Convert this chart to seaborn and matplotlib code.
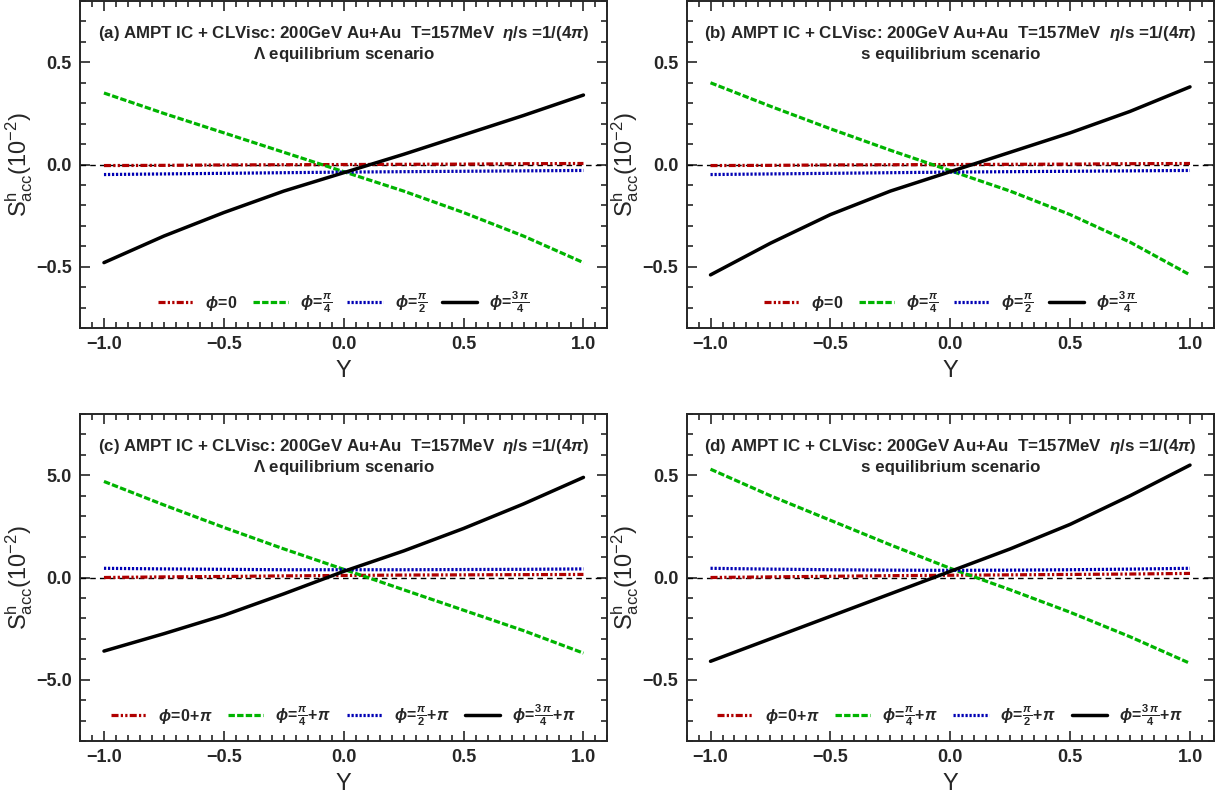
import numpy as np
import pandas as pd
import matplotlib
matplotlib.use("Agg")
import matplotlib.pyplot as plt
from matplotlib.ticker import MultipleLocator, FuncFormatter
import seaborn as sns

# rapidity grid
Y = [-1.0, -0.75, -0.5, -0.25, 0.0, 0.25, 0.5, 0.75, 1.0]

# (a) Lambda equilibrium, phi = 0, pi/4, pi/2, 3pi/4
a_phi0 = [-0.005, -0.004, -0.002, -0.001, 0.0, 0.001, 0.002, 0.004, 0.005]
a_phi1 = [0.35, 0.25, 0.155, 0.06, -0.035, -0.13, -0.235, -0.35, -0.48]
a_phi2 = [-0.049, -0.046, -0.043, -0.040, -0.037, -0.035, -0.033, -0.031, -0.029]
a_phi3 = [-0.48, -0.35, -0.235, -0.13, -0.04, 0.05, 0.145, 0.24, 0.34]

# (b) s equilibrium
b_phi0 = [-0.005, -0.004, -0.002, -0.001, 0.0, 0.001, 0.002, 0.004, 0.005]
b_phi1 = [0.40, 0.285, 0.175, 0.07, -0.03, -0.13, -0.245, -0.38, -0.54]
b_phi2 = [-0.049, -0.046, -0.043, -0.040, -0.037, -0.035, -0.033, -0.031, -0.029]
b_phi3 = [-0.54, -0.385, -0.245, -0.13, -0.035, 0.06, 0.155, 0.26, 0.38]

# (c) Lambda equilibrium, phi + pi
c_phi0 = [0.0, 0.03, 0.05, 0.08, 0.10, 0.12, 0.13, 0.14, 0.15]
c_phi1 = [4.7, 3.55, 2.45, 1.4, 0.4, -0.6, -1.6, -2.6, -3.7]
c_phi2 = [0.45, 0.42, 0.40, 0.38, 0.38, 0.38, 0.39, 0.40, 0.42]
c_phi3 = [-3.6, -2.75, -1.85, -0.8, 0.3, 1.3, 2.4, 3.6, 4.9]

# (d) s equilibrium, phi + pi
d_phi0 = [0.0, 0.003, 0.006, 0.009, 0.011, 0.013, 0.015, 0.017, 0.02]
d_phi1 = [0.53, 0.40, 0.28, 0.16, 0.045, -0.06, -0.17, -0.29, -0.42]
d_phi2 = [0.045, 0.041, 0.038, 0.036, 0.035, 0.036, 0.038, 0.041, 0.045]
d_phi3 = [-0.41, -0.30, -0.19, -0.08, 0.03, 0.14, 0.26, 0.40, 0.55]

labels_top = [r'$\phi\!=\!0$', r'$\phi\!=\!\frac{\pi}{4}$',
              r'$\phi\!=\!\frac{\pi}{2}$', r'$\phi\!=\!\frac{3\,\pi}{4}$']
labels_bot = [r'$\phi\!=\!0\!+\!\pi$', r'$\phi\!=\!\frac{\pi}{4}\!+\!\pi$',
              r'$\phi\!=\!\frac{\pi}{2}\!+\!\pi$', r'$\phi\!=\!\frac{3\,\pi}{4}\!+\!\pi$']

panels = [
    ("(a)", r"$\Lambda$", [a_phi0, a_phi1, a_phi2, a_phi3], labels_top, 0.8, 0.5, 0.1),
    ("(b)", "s", [b_phi0, b_phi1, b_phi2, b_phi3], labels_top, 0.8, 0.5, 0.1),
    ("(c)", r"$\Lambda$", [c_phi0, c_phi1, c_phi2, c_phi3], labels_bot, 8.0, 5.0, 1.0),
    ("(d)", "s", [d_phi0, d_phi1, d_phi2, d_phi3], labels_bot, 0.8, 0.5, 0.1),
]

colors = ["#b00000", "#00b400", "#0000b4", "black"]
styles = [(0, (2.2, 0.7, 0.7, 0.7, 0.7, 0.7)), (0, (2.0, 0.7)), (0, (0.7, 0.55)), "-"]

sns.set_style("ticks")
plt.rcParams['font.family'] = ['Liberation Sans', 'DejaVu Sans']
plt.rcParams['mathtext.fontset'] = 'custom'
plt.rcParams['mathtext.rm'] = 'Liberation Sans:bold'
plt.rcParams['mathtext.bf'] = 'Liberation Sans:bold'
plt.rcParams['mathtext.it'] = 'Liberation Sans:italic:bold'
plt.rcParams['mathtext.bfit'] = 'Liberation Sans:italic:bold'

fmt = FuncFormatter(lambda v, p: f"{v:.1f}".replace("-", "\u2212"))

fig, axes = plt.subplots(2, 2, figsize=(12.25, 7.99), dpi=100)
fig.subplots_adjust(left=0.0653, right=0.991, top=0.9987, bottom=0.0726,
                    wspace=0.15, hspace=0.263)

for ax, (tag, part, series, labels, ylim, major, minor) in zip(axes.flat, panels):
    ax.axhline(0, color="black", ls=(0, (4, 3)), lw=1.0, zorder=1)
    for vals, lab, col, ls in zip(series, labels, colors, styles):
        df = pd.DataFrame({"Y": Y, "S": vals})
        sns.lineplot(data=df, x="Y", y="S", ax=ax, color=col, linestyle=ls,
                     lw=2.3 if col != "black" else 2.5, label=lab, zorder=2)
    ax.set_xlim(-1.1, 1.1)
    ax.set_ylim(-ylim, ylim)
    ax.xaxis.set_major_locator(MultipleLocator(0.5))
    ax.xaxis.set_minor_locator(MultipleLocator(0.05))
    ax.yaxis.set_major_locator(MultipleLocator(major))
    ax.yaxis.set_minor_locator(MultipleLocator(minor))
    ax.xaxis.set_major_formatter(fmt)
    ax.yaxis.set_major_formatter(fmt)
    ax.tick_params(which="both", direction="in", top=True, right=True,
                   width=1.2, labelsize=13)
    ax.tick_params(which="major", length=7, pad=6)
    ax.tick_params(which="minor", length=4)
    for t in ax.get_xticklabels() + ax.get_yticklabels():
        t.set_fontweight("bold")
    for sp in ax.spines.values():
        sp.set_linewidth(1.4)
    ax.set_xlabel("Y", fontsize=17, labelpad=5)
    ax.set_ylabel(r"$\mathregular{S^h_{acc}(10^{-2})}$", fontsize=17)
    ax.yaxis.set_label_coords(-0.086, 0.5)
    ax.text(0.5, 0.9,
            tag + r" AMPT IC + CLVisc: 200GeV Au+Au  T=157MeV  $\eta$/s =1/(4$\pi$)",
            transform=ax.transAxes, ha="center", va="center",
            fontsize=12.2, fontweight="bold")
    ax.text(0.5, 0.837, part + " equilibrium scenario", transform=ax.transAxes,
            ha="center", va="center", fontsize=12.2, fontweight="bold")
    ax.legend(loc="lower center", bbox_to_anchor=(0.5, -0.005), ncol=4, frameon=False,
              fontsize=11.5, handlelength=2.2, columnspacing=0.95, handletextpad=0.75)

fig.savefig("out.png", dpi=100)
